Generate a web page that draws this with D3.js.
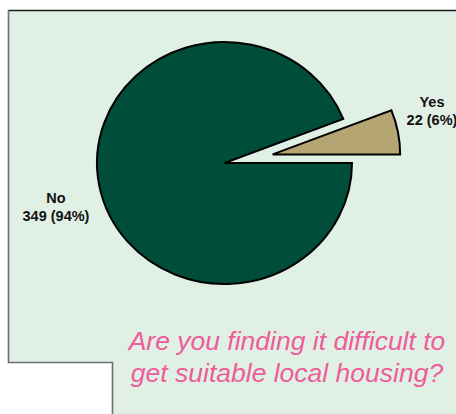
<!DOCTYPE html>
<html>
<head>
<meta charset="utf-8">
<script src="https://cdn.jsdelivr.net/npm/d3@7"></script>
<style>
  html, body { margin: 0; padding: 0; background: #ffffff; }
  svg { display: block; }
</style>
</head>
<body>
<svg id="chart" width="456" height="414"></svg>
<script>
// ---- data ----
const categories = ["Yes", "No"];
const values = [22, 349];
const titleLines = ["Are you finding it difficult to", "get suitable local housing?"];

// ---- layout / style ----
const W = 456, H = 414;
const colors = { Yes: "#b5a573", No: "#004d3a" };
const cx = 224.5, cy = 163, rx = 127.5, ry = 121;
const explodeYes = 49;

const svg = d3.select("#chart");

// background panel with notch
svg.append("path")
  .attr("d", "M8,10 L456,10 L456,414 L112,414 L112,362 L8,362 Z")
  .attr("fill", "#e1f0e5");
svg.append("line").attr("x1", 8).attr("y1", 10.5).attr("x2", 456).attr("y2", 10.5)
  .attr("stroke", "#1a1a1a").attr("stroke-width", 1.6);
svg.append("path").attr("d", "M8.5,10 L8.5,362.5 L112.5,362.5 L112.5,414")
  .attr("fill", "none").attr("stroke", "#6e6e6e").attr("stroke-width", 1.6);

// pie
const total = d3.sum(values);
const data = categories.map((c, i) => ({ cat: c, value: values[i] }));
const pie = d3.pie().sort(null).value(d => d.value)
  .startAngle(Math.PI / 2 - 2 * Math.PI * values[0] / total)
  .endAngle(Math.PI / 2 - 2 * Math.PI * values[0] / total + 2 * Math.PI);
const arcs = pie(data);
const arc = d3.arc().innerRadius(0).outerRadius(rx);

const g = svg.append("g")
  .attr("transform", `translate(${cx},${cy}) scale(1,${ry / rx})`);

g.selectAll("path.slice").data(arcs).enter().append("path")
  .attr("class", "slice")
  .attr("d", arc)
  .attr("transform", d => {
    if (d.data.cat !== "Yes") return null;
    const mid = (d.startAngle + d.endAngle) / 2;
    return `translate(${explodeYes * Math.sin(mid)},${-explodeYes * Math.cos(mid)})`;
  })
  .attr("fill", d => colors[d.data.cat])
  .attr("stroke", "#000")
  .attr("stroke-width", 2)
  .attr("stroke-linejoin", "miter")
  .attr("vector-effect", "non-scaling-stroke");

// labels
const labelPos = { Yes: [432, 107], No: [56, 203] };
arcs.forEach(d => {
  const pct = Math.round(d.data.value / total * 100);
  const [lx, ly] = labelPos[d.data.cat];
  const t = svg.append("text")
    .attr("x", lx).attr("y", ly)
    .attr("text-anchor", "middle")
    .attr("font-family", "Liberation Sans, Arial, sans-serif")
    .attr("font-weight", "bold")
    .attr("font-size", 14.5)
    .attr("fill", "#111");
  t.append("tspan").attr("x", lx).attr("dy", 0).text(d.data.cat);
  t.append("tspan").attr("x", lx).attr("dy", 18).text(`${d.data.value} (${pct}%)`);
});

// title
const title = svg.append("text")
  .attr("x", 287).attr("y", 349.5)
  .attr("text-anchor", "middle")
  .attr("font-family", "Liberation Sans, Arial, sans-serif")
  .attr("font-style", "italic")
  .attr("font-size", 26.5)
  .attr("fill", "#ee5c9b");
titleLines.forEach((line, i) => {
  title.append("tspan").attr("x", 287).attr("dy", i === 0 ? 0 : 32.3).text(line);
});
</script>
</body>
</html>
